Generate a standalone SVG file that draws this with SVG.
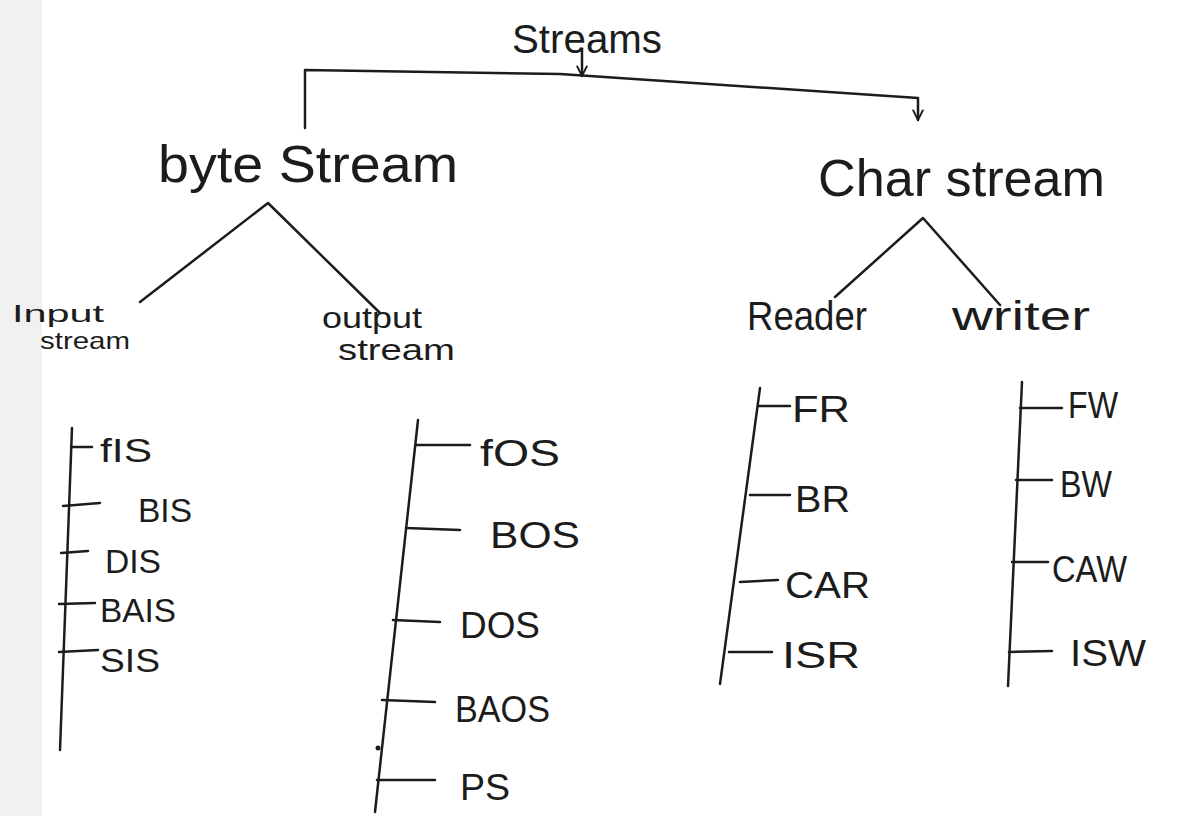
<svg xmlns="http://www.w3.org/2000/svg" width="1200" height="816" viewBox="0 0 1200 816">
<style>
text{font-family:"Liberation Sans","DejaVu Sans",sans-serif;fill:#1c1c1c}
.ln{stroke:#1c1c1c;stroke-width:2.5;fill:none;stroke-linecap:round;stroke-linejoin:round}
.t1{font-size:52px}
.t2{font-size:36px}
.t3{font-size:34px}
</style>
<defs>
<marker id="ah" viewBox="0 0 10 10" refX="9" refY="5" markerWidth="12" markerHeight="12" orient="auto" markerUnits="userSpaceOnUse">
<path d="M1,1 L9,5 L1,9" fill="none" stroke="#1c1c1c" stroke-width="1.6" stroke-linecap="round"/>
</marker>
</defs>
<rect x="0" y="0" width="1200" height="816" fill="#ffffff"/>
<rect x="0" y="0" width="42" height="816" fill="#f1f1f1"/>
<g id="connectors">
<path class="ln" d="M582,50 L582,76" marker-end="url(#ah)"/>
<path class="ln" d="M305,128 L305,70 L560,74 L918,98 L918,120" marker-end="url(#ah)"/>
<path class="ln" d="M140,302 L268,203 L380,313"/>
<path class="ln" d="M835,297 L923,218 L1000,305"/>
<path class="ln" d="M72,428 L60,750"/>
<path class="ln" d="M71,447 L92,447 M63,506 L100,503 M61,553 L88,551 M59,604 L95,603 M59,652 L98,650"/>
<path class="ln" d="M418,420 L375,812"/>
<path class="ln" d="M416,445 L470,445 M406,528 L460,530 M393,620 L440,622 M382,700 L435,702 M377,780 L435,780"/>
<circle cx="378" cy="748" r="2.5" fill="#1c1c1c"/>
<path class="ln" d="M760,388 L720,684"/>
<path class="ln" d="M758,406 L790,406 M750,495 L790,495 M740,582 L778,580 M729,652 L772,652"/>
<path class="ln" d="M1022,382 L1008,686"/>
<path class="ln" d="M1020,408 L1062,408 M1016,480 L1052,480 M1012,562 L1048,562 M1009,652 L1052,651"/>
</g>
<g id="streams"><text x="512" y="53" font-size="40" textLength="150" lengthAdjust="spacingAndGlyphs">Streams</text></g>
<g id="byte-stream"><text class="t1" x="158" y="182" textLength="300" lengthAdjust="spacingAndGlyphs">byte Stream</text></g>
<g id="char-stream"><text class="t1" x="818" y="196" textLength="287" lengthAdjust="spacingAndGlyphs">Char stream</text></g>
<g id="input-stream">
<text x="12" y="322" font-size="24" textLength="92" lengthAdjust="spacingAndGlyphs">Input</text>
<text x="40" y="349" font-size="24" textLength="90" lengthAdjust="spacingAndGlyphs">stream</text>
</g>
<g id="output-stream">
<text x="322" y="328" font-size="30" textLength="100" lengthAdjust="spacingAndGlyphs">output</text>
<text x="338" y="360" font-size="30" textLength="117" lengthAdjust="spacingAndGlyphs">stream</text>
</g>
<g id="reader"><text x="747" y="330" font-size="40" textLength="120" lengthAdjust="spacingAndGlyphs">Reader</text></g>
<g id="writer"><text x="952" y="330" font-size="40" textLength="138" lengthAdjust="spacingAndGlyphs">writer</text></g>
<g id="fis"><text class="t3" x="100" y="462" textLength="52" lengthAdjust="spacingAndGlyphs">fIS</text></g>
<g id="bis"><text class="t3" x="138" y="522" textLength="54" lengthAdjust="spacingAndGlyphs">BIS</text></g>
<g id="dis"><text class="t3" x="105" y="573" textLength="56" lengthAdjust="spacingAndGlyphs">DIS</text></g>
<g id="bais"><text class="t3" x="100" y="622" textLength="76" lengthAdjust="spacingAndGlyphs">BAIS</text></g>
<g id="sis"><text class="t3" x="100" y="672" textLength="60" lengthAdjust="spacingAndGlyphs">SIS</text></g>
<g id="fos"><text class="t2" x="480" y="466" textLength="80" lengthAdjust="spacingAndGlyphs">fOS</text></g>
<g id="bos"><text class="t2" x="490" y="548" textLength="90" lengthAdjust="spacingAndGlyphs">BOS</text></g>
<g id="dos"><text class="t2" x="460" y="638" textLength="80" lengthAdjust="spacingAndGlyphs">DOS</text></g>
<g id="baos"><text class="t2" x="455" y="722" textLength="95" lengthAdjust="spacingAndGlyphs">BAOS</text></g>
<g id="ps"><text class="t2" x="460" y="800" textLength="50" lengthAdjust="spacingAndGlyphs">PS</text></g>
<g id="fr"><text class="t2" x="792" y="422" textLength="58" lengthAdjust="spacingAndGlyphs">FR</text></g>
<g id="br"><text class="t2" x="795" y="512" textLength="55" lengthAdjust="spacingAndGlyphs">BR</text></g>
<g id="car"><text class="t2" x="785" y="598" textLength="85" lengthAdjust="spacingAndGlyphs">CAR</text></g>
<g id="isr"><text class="t2" x="782" y="668" textLength="78" lengthAdjust="spacingAndGlyphs">ISR</text></g>
<g id="fw"><text class="t2" x="1068" y="418" textLength="50" lengthAdjust="spacingAndGlyphs">FW</text></g>
<g id="bw"><text class="t2" x="1060" y="497" textLength="52" lengthAdjust="spacingAndGlyphs">BW</text></g>
<g id="caw"><text class="t2" x="1052" y="582" textLength="75" lengthAdjust="spacingAndGlyphs">CAW</text></g>
<g id="isw"><text class="t2" x="1070" y="666" textLength="76" lengthAdjust="spacingAndGlyphs">ISW</text></g>
</svg>
